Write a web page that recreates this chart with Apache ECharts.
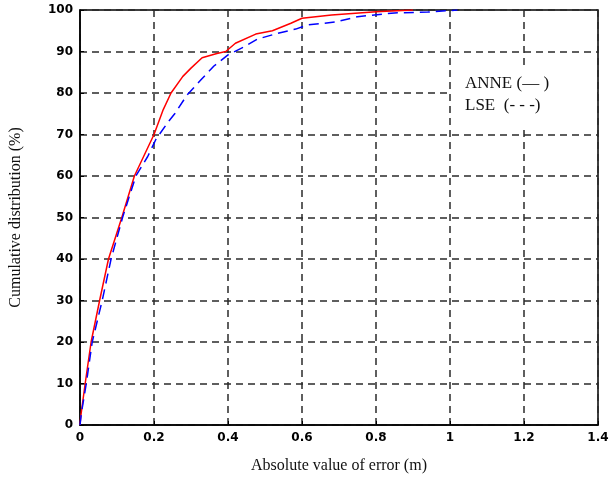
<!DOCTYPE html>
<html>
<head>
<meta charset="utf-8">
<script src="https://cdn.jsdelivr.net/npm/echarts@6/dist/echarts.min.js"></script>
<style>
  html, body { margin: 0; padding: 0; background: #fff; }
  #chart { width: 613px; height: 479px; }
</style>
</head>
<body>
<div id="chart"></div>
<script>
// cumulative distribution of absolute error
const anneErr = [0, 0.002, 0.014, 0.03, 0.053, 0.077, 0.113, 0.147, 0.2, 0.225, 0.246, 0.278, 0.3, 0.33, 0.37, 0.394, 0.42, 0.475, 0.52, 0.57, 0.6, 0.68, 0.8, 0.9];
const anneCum = [0, 2, 10, 20, 30, 40, 50, 60, 70, 76, 80, 84, 86, 88.5, 89.5, 90, 92, 94.2, 95, 96.8, 98, 98.8, 99.6, 100];

const lseErr = [0, 0.004, 0.017, 0.033, 0.06, 0.084, 0.115, 0.151, 0.183, 0.205, 0.238, 0.256, 0.29, 0.327, 0.362, 0.4, 0.443, 0.48, 0.535, 0.583, 0.615, 0.69, 0.75, 0.85, 0.94, 1.02];
const lseCum = [0, 3, 10, 20, 30, 40, 50, 60, 64.7, 68.8, 73, 75, 79.6, 83.2, 86.5, 89.2, 91.1, 93, 94.4, 95.4, 96.4, 97.1, 98.4, 99.3, 99.5, 100];

const legendLines = ['ANNE (\u2014 )', 'LSE  (- - -)'];

const chart = echarts.init(document.getElementById('chart'));

const zip = (xs, ys) => xs.map((x, i) => [x, ys[i]]);

const serif = '"Liberation Serif", "DejaVu Serif", serif';
const gridLine = { show: true, lineStyle: { color: '#2a2a2a', width: 1.5, type: [7, 5] } };

// white legend box that hides the grid behind the text
const legendBox = {
  type: 'rect',
  left: 452, top: 67, z: 5,
  shape: { width: 145, height: 61 },
  style: { fill: '#fff' }
};

chart.setOption({
  animation: false,
  backgroundColor: '#fff',
  grid: {
    left: 79, right: 15, top: 10, bottom: 53,
    show: true, borderColor: '#000', borderWidth: 1.5
  },
  xAxis: {
    type: 'value',
    min: 0, max: 1.4, interval: 0.2,
    name: 'Absolute value of error (m)',
    nameLocation: 'middle',
    nameGap: 33,
    nameTextStyle: { fontFamily: serif, fontSize: 16, color: '#111' },
    axisLine: { lineStyle: { color: '#000', width: 1.5 } },
    axisTick: { inside: true, length: 4, lineStyle: { color: '#000' } },
    axisLabel: {
      color: '#000', fontSize: 12, fontWeight: 'bold', margin: 7,
      fontFamily: '"DejaVu Sans", sans-serif',
      formatter: v => String(+v.toFixed(1))
    },
    splitLine: gridLine
  },
  yAxis: {
    type: 'value',
    min: 0, max: 100, interval: 10,
    name: 'Cumulative distribution (%)',
    nameLocation: 'middle',
    nameGap: 56,
    nameTextStyle: { fontFamily: serif, fontSize: 16, color: '#111' },
    axisLine: { lineStyle: { color: '#000', width: 1.5 } },
    axisTick: { inside: true, length: 4, lineStyle: { color: '#000' } },
    axisLabel: {
      color: '#000', fontSize: 12, fontWeight: 'bold', margin: 7,
      fontFamily: '"DejaVu Sans", sans-serif'
    },
    splitLine: gridLine
  },
  graphic: [legendBox].concat(legendLines.map((t, i) => ({
    type: 'text',
    left: 465,
    top: 75 + i * 22,
    z: 6,
    style: { text: t, fill: '#111', font: '17px ' + serif }
  }))),
  series: [
    {
      name: 'ANNE',
      type: 'line',
      data: zip(anneErr, anneCum),
      showSymbol: false,
      lineStyle: { color: '#ff0000', width: 1.5 },
      z: 3
    },
    {
      name: 'LSE',
      type: 'line',
      data: zip(lseErr, lseCum),
      showSymbol: false,
      lineStyle: { color: '#0000ff', width: 1.5, type: [10, 6] },
      z: 4
    }
  ]
});
</script>
</body>
</html>
